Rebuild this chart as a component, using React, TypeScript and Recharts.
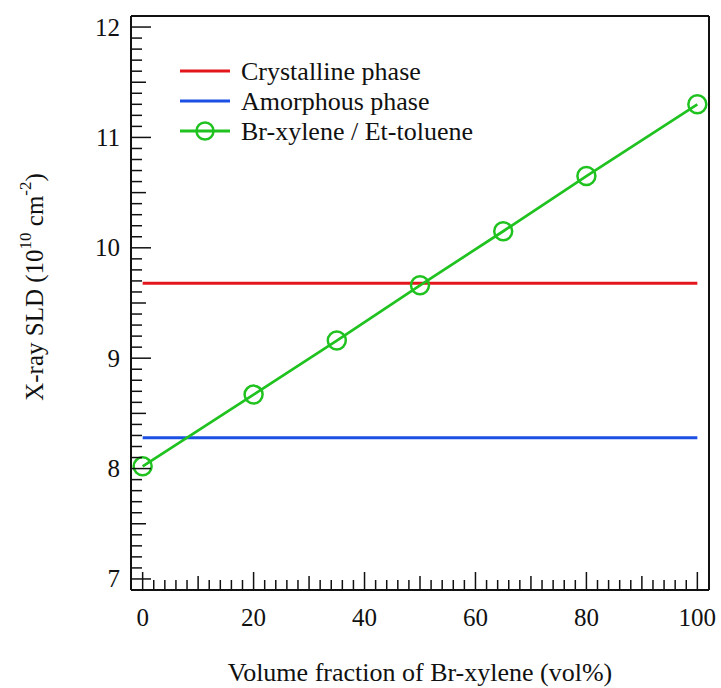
import React from "react"
import { LineChart, Line, XAxis, YAxis } from "recharts"

// Br-xylene content of the solvent mixture (vol%) and the mixture's SLD
const volumeFractions = [0, 20, 35, 50, 65, 80, 100]
const mixtureSld = [8.02, 8.67, 9.16, 9.66, 10.15, 10.65, 11.3]

// constant SLD levels of the two polymer phases
const phaseRange = [0, 100]
const crystallineSld = 9.68
const amorphousSld = 8.28

// ticks: labels every 20 / every 1, minor marks every 2 / every 0.1
const xTicks = Array.from({ length: 51 }, (_, i) => i * 2)
const yTicks = Array.from({ length: 51 }, (_, i) => Math.round(70 + i) / 10)

const mixtureData = volumeFractions.map((vol, i) => ({ vol, sld: mixtureSld[i] }))
const crystallineData = phaseRange.map((vol) => ({ vol, sld: crystallineSld }))
const amorphousData = phaseRange.map((vol) => ({ vol, sld: amorphousSld }))

const FONT = "'Liberation Serif', 'Times New Roman', serif"
const INK = "#111"
const RED = "#e3161b"
const BLUE = "#1c4fe4"
const GREEN = "#1fc21f"

const isWhole = (v: number) => Math.abs(v - Math.round(v)) < 1e-6
const isHalf = (v: number) => Math.abs(v * 2 - Math.round(v * 2)) < 1e-6

function xTickLen(v: number) {
    if (v % 20 === 0) return 18
    if (v % 10 === 0) return 14
    return 10
}

function yTickLen(v: number) {
    if (isWhole(v)) return 20
    if (isHalf(v)) return 15
    return 11
}

const BottomTick = ({ x, y, payload }: any) => {
    const v = payload.value
    return (
        <g>
            <line x1={x} x2={x} y1={y} y2={y - xTickLen(v)} stroke={INK} strokeWidth={1.5} />
            {v % 20 === 0 && (
                <text x={x} y={y + 36} textAnchor="middle" style={{ fontFamily: FONT, fontSize: 25 }} fill={INK}>
                    {v}
                </text>
            )}
        </g>
    )
}

const TopTick = ({ x, y, payload }: any) => (
    <line x1={x} x2={x} y1={y} y2={y + xTickLen(payload.value)} stroke={INK} strokeWidth={1.5} />
)

const LeftTick = ({ x, y, payload }: any) => {
    const v = payload.value
    return (
        <g>
            <line x1={x} x2={x + yTickLen(v)} y1={y} y2={y} stroke={INK} strokeWidth={1.5} />
            {isWhole(v) && (
                <text x={x - 11} y={y + 8.5} textAnchor="end" style={{ fontFamily: FONT, fontSize: 25 }} fill={INK}>
                    {Math.round(v)}
                </text>
            )}
        </g>
    )
}

const RightTick = ({ x, y, payload }: any) => (
    <line x1={x} x2={x - yTickLen(payload.value)} y1={y} y2={y} stroke={INK} strokeWidth={1.5} />
)

const XTitle = ({ viewBox }: any) => (
    <text
        x={viewBox.x + viewBox.width / 2}
        y={viewBox.y + 91}
        textAnchor="middle"
        style={{ fontFamily: FONT, fontSize: 26 }}
        fill={INK}
    >
        Volume fraction of Br-xylene (vol%)
    </text>
)

const YTitle = () => (
    <text
        x={43}
        y={287}
        transform="rotate(-90, 43, 287)"
        textAnchor="middle"
        style={{ fontFamily: FONT, fontSize: 25 }}
        fill={INK}
    >
        X-ray SLD (10
        <tspan dy={-12} style={{ fontSize: 17 }}>10</tspan>
        <tspan dy={12}> cm</tspan>
        <tspan dy={-12} style={{ fontSize: 17 }}>-2</tspan>
        <tspan dy={12}>)</tspan>
    </text>
)

const legendItems = [
    { label: "Crystalline phase", color: RED, marker: false },
    { label: "Amorphous phase", color: BLUE, marker: false },
    { label: "Br-xylene / Et-toluene", color: GREEN, marker: true },
]

function LegendBox() {
    return (
        <svg
            width={721}
            height={688}
            style={{ position: "absolute", left: 0, top: 0, pointerEvents: "none" }}
        >
            {legendItems.map((item, i) => {
                const cy = 71 + i * 30
                return (
                    <g key={item.label}>
                        <line x1={180} x2={230} y1={cy} y2={cy} stroke={item.color} strokeWidth={3} />
                        {item.marker && (
                            <circle cx={205} cy={cy} r={8.5} fill="none" stroke={item.color} strokeWidth={2.5} />
                        )}
                        <text x={241} y={cy + 8.5} style={{ fontFamily: FONT, fontSize: 26 }} fill={INK}>
                            {item.label}
                        </text>
                    </g>
                )
            })}
        </svg>
    )
}

export default function App() {
    return (
        <div style={{ position: "absolute", left: 0, top: 0, width: 721, height: 688, background: "#fff" }}>
            <LineChart width={721} height={688} margin={{ top: 15, right: 11, left: 71, bottom: 38 }}>
                <XAxis
                    xAxisId="b"
                    dataKey="vol"
                    type="number"
                    domain={[-2.1, 102.1]}
                    ticks={xTicks}
                    interval={0}
                    height={60}
                    tickSize={0}
                    tickMargin={0}
                    tickLine={false}
                    tick={<BottomTick />}
                    axisLine={{ stroke: INK, strokeWidth: 2 }}
                    label={<XTitle />}
                />
                <XAxis
                    xAxisId="t"
                    orientation="top"
                    dataKey="vol"
                    type="number"
                    domain={[-2.1, 102.1]}
                    ticks={xTicks}
                    interval={0}
                    height={1}
                    tickSize={0}
                    tickMargin={0}
                    tickLine={false}
                    tick={<TopTick />}
                    axisLine={{ stroke: INK, strokeWidth: 2 }}
                />
                <YAxis
                    yAxisId="l"
                    type="number"
                    domain={[6.9, 12.1]}
                    ticks={yTicks}
                    interval={0}
                    width={60}
                    tickSize={0}
                    tickMargin={0}
                    tickLine={false}
                    tick={<LeftTick />}
                    axisLine={{ stroke: INK, strokeWidth: 2 }}
                    label={<YTitle />}
                />
                <YAxis
                    yAxisId="r"
                    orientation="right"
                    type="number"
                    domain={[6.9, 12.1]}
                    ticks={yTicks}
                    interval={0}
                    width={1}
                    tickSize={0}
                    tickMargin={0}
                    tickLine={false}
                    tick={<RightTick />}
                    axisLine={{ stroke: INK, strokeWidth: 2 }}
                />
                <Line
                    xAxisId="b"
                    yAxisId="l"
                    data={crystallineData}
                    dataKey="sld"
                    stroke={RED}
                    strokeWidth={3}
                    dot={false}
                    activeDot={false}
                    isAnimationActive={false}
                />
                <Line
                    xAxisId="b"
                    yAxisId="l"
                    data={amorphousData}
                    dataKey="sld"
                    stroke={BLUE}
                    strokeWidth={3}
                    dot={false}
                    activeDot={false}
                    isAnimationActive={false}
                />
                <Line
                    xAxisId="b"
                    yAxisId="l"
                    data={mixtureData}
                    dataKey="sld"
                    stroke={GREEN}
                    strokeWidth={2.7}
                    dot={{ r: 9, stroke: GREEN, strokeWidth: 2.5, fill: "none" }}
                    activeDot={false}
                    isAnimationActive={false}
                />
            </LineChart>
            <LegendBox />
        </div>
    )
}
